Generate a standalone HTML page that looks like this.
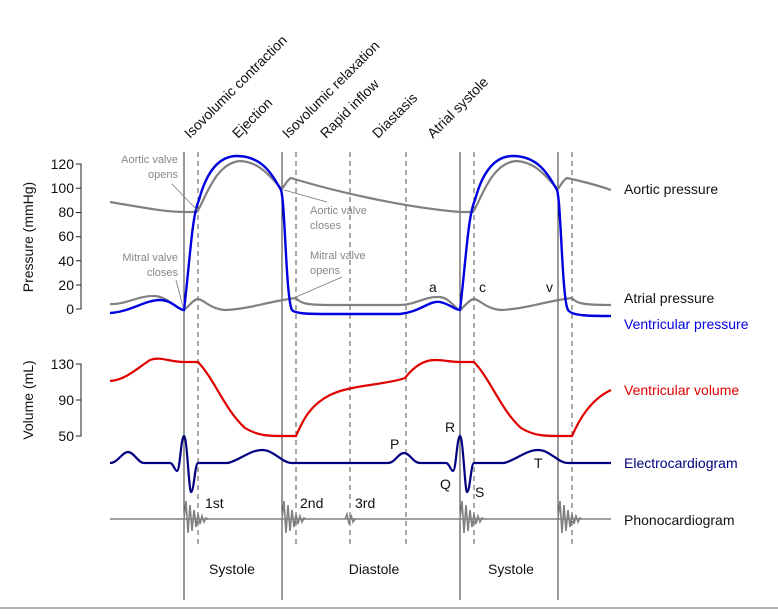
<!DOCTYPE html>
<html><head><meta charset="utf-8"><style>
html,body{margin:0;padding:0;background:#fff;}
svg{display:block;font-family:"Liberation Sans",Arial,sans-serif;}
</style></head><body>
<svg width="778" height="615" viewBox="0 0 778 615" xmlns="http://www.w3.org/2000/svg">
<defs>
<path id="burst" d="M0,0 L2,-18 L4,14 L6,-14 L8,12 L10,-9 L12,8 L14,-5 L16,5 L18,-3 L20,3 L22,-1 L24,0" fill="none" stroke="#808080" stroke-width="1.6"/>
</defs>
<g stroke="#333" stroke-width="1">
<line x1="184" y1="152" x2="184" y2="600"/>
<line x1="282" y1="152" x2="282" y2="600"/>
<line x1="460" y1="152" x2="460" y2="600"/>
<line x1="558" y1="152" x2="558" y2="600"/>
</g>
<g stroke="#555" stroke-width="1" stroke-dasharray="5,4">
<line x1="198" y1="152" x2="198" y2="545"/>
<line x1="296" y1="152" x2="296" y2="545"/>
<line x1="350" y1="152" x2="350" y2="545"/>
<line x1="406" y1="152" x2="406" y2="545"/>
<line x1="474" y1="152" x2="474" y2="545"/>
<line x1="572" y1="152" x2="572" y2="545"/>
</g>
<line x1="0" y1="608" x2="778" y2="608" stroke="#999" stroke-width="1.5"/>
<g stroke="#222" stroke-width="1" fill="none">
<path d="M76,164 H81 V309 H76 M76,188.3 H81 M76,212.5 H81 M76,236.7 H81 M76,260.8 H81 M76,285 H81"/>
<path d="M76,364 H81 V436 H76 M76,400 H81"/>
</g>
<g font-size="14" fill="#111" text-anchor="end">
<text x="74" y="169">120</text><text x="74" y="193">100</text><text x="74" y="217">80</text>
<text x="74" y="241">60</text><text x="74" y="266">40</text><text x="74" y="290">20</text><text x="74" y="314">0</text>
<text x="74" y="369">130</text><text x="74" y="405">90</text><text x="74" y="441">50</text>
</g>
<text transform="translate(33,237) rotate(-90)" font-size="14" text-anchor="middle" fill="#111">Pressure (mmHg)</text>
<text transform="translate(33,400) rotate(-90)" font-size="14" text-anchor="middle" fill="#111">Volume (mL)</text>
<g font-size="14" fill="#111">
<text transform="translate(190,139) rotate(-45)">Isovolumic contraction</text>
<text transform="translate(238,139) rotate(-45)">Ejection</text>
<text transform="translate(288,139) rotate(-45)">Isovolumic relaxation</text>
<text transform="translate(326,139) rotate(-45)">Rapid inflow</text>
<text transform="translate(378,139) rotate(-45)">Diastasis</text>
<text transform="translate(433,139) rotate(-45)">Atrial systole</text>
</g>
<path d="M110,202 C140,207 165,212 184,212 L197,212 C205,200 215,163 240,161 C262,162 272,180 282,189 C285,185 287,180 291,178 C330,190 400,207 460,212 L473,212 C481,200 491,163 516,161 C538,162 548,180 558,189 C561,185 563,180 567,178 C585,182 600,186 611,190" fill="none" stroke="#808080" stroke-width="2.2"/>
<path d="M110,304 C125,305 140,295 155,296 C168,297 178,310 184,310 C190,305 194,299 198,299 C203,299 210,309 225,310 C250,309 270,301 296,298 C300,303 305,305 330,305 L400,305 C415,305 425,296 440,297 C450,298 456,310 460,310 C466,305 470,299 474,299 C479,299 486,309 501,310 C526,309 546,301 572,298 C576,303 581,305 611,305" fill="none" stroke="#808080" stroke-width="2.2"/>
<path d="M110,313 C130,312 145,300 160,300 C172,300 178,310 184,310 C190,260 192,215 199,200 C207,170 220,156 237,156 C265,156 275,180 281,190 C285,200 286,300 292,310 C296,314 310,314 330,314 L400,314 C420,312 430,300 440,302 C450,304 455,310 460,310 C466,260 468,215 475,200 C483,170 496,156 513,156 C541,156 551,180 557,190 C561,200 562,300 568,310 C572,316 590,316 611,316" fill="none" stroke="#0000e0" stroke-width="2.4"/>
<path d="M110,381 C125,380 135,370 150,360 C160,356 170,362 184,362 L198,362 C215,380 225,410 245,428 C258,436 270,436 282,436 L296,436 C303,420 310,405 330,395 C350,385 385,385 405,378 C415,365 425,360 435,360 C445,360 450,362 460,362 L474,362 C491,380 501,410 521,428 C534,436 546,436 558,436 L572,436 C579,420 590,400 611,390" fill="none" stroke="#e00000" stroke-width="2.2"/>
<path d="M110,463 C118,463 122,452 128,452 C134,452 138,463 144,463 L170,463 C173,463 175,471 177,471 C180,471 181,436 184,436 C187,436 189,492 191,492 C194,492 195,463 198,463 L228,463 C240,460 250,450 262,450 C274,450 282,463 292,463 L388,463 C395,463 398,453 404,453 C410,453 413,463 420,463 L446,463 C449,463 451,471 453,471 C456,471 457,436 460,436 C463,436 465,492 467,492 C470,492 471,463 474,463 L504,463 C516,460 526,450 538,450 C550,450 558,463 568,463 L611,463" fill="none" stroke="#000080" stroke-width="2.2"/>
<line x1="110" y1="519" x2="611" y2="519" stroke="#808080" stroke-width="1.6"/>
<use href="#burst" x="184" y="519"/>
<use href="#burst" x="282" y="519"/>
<use href="#burst" x="460" y="519"/>
<use href="#burst" x="558" y="519"/>
<path d="M345,519 L347,514 L349,524 L351,515 L353,522 L355,519" fill="none" stroke="#808080" stroke-width="1.6"/>
<g font-size="11" fill="#888">
<text x="178" y="163" text-anchor="end">Aortic valve</text>
<text x="178" y="178" text-anchor="end">opens</text>
<text x="178" y="261" text-anchor="end">Mitral valve</text>
<text x="178" y="276" text-anchor="end">closes</text>
<text x="310" y="214">Aortic valve</text>
<text x="310" y="229">closes</text>
<text x="310" y="259">Mitral valve</text>
<text x="310" y="274">opens</text>
</g>
<g stroke="#777" stroke-width="0.8" fill="none">
<line x1="172" y1="184" x2="197" y2="210"/>
<line x1="176" y1="280" x2="183" y2="307"/>
<line x1="284" y1="190" x2="327" y2="202"/>
<line x1="296" y1="297" x2="342" y2="277"/>
</g>
<g font-size="14" fill="#111">
<text x="429" y="292">a</text><text x="479" y="292">c</text><text x="546" y="292">v</text>
<text x="390" y="449">P</text><text x="445" y="432">R</text><text x="440" y="489">Q</text>
<text x="475" y="497">S</text><text x="534" y="468">T</text>
<text x="205" y="508">1st</text><text x="300" y="508">2nd</text><text x="355" y="508">3rd</text>
<text x="232" y="574" text-anchor="middle">Systole</text>
<text x="374" y="574" text-anchor="middle">Diastole</text>
<text x="511" y="574" text-anchor="middle">Systole</text>
<text x="624" y="194">Aortic pressure</text>
<text x="624" y="303">Atrial pressure</text>
<text x="624" y="329" fill="#0000e0">Ventricular pressure</text>
<text x="624" y="395" fill="#e00000">Ventricular volume</text>
<text x="624" y="468" fill="#000080">Electrocardiogram</text>
<text x="624" y="525">Phonocardiogram</text>
</g>
</svg>
</body></html>
